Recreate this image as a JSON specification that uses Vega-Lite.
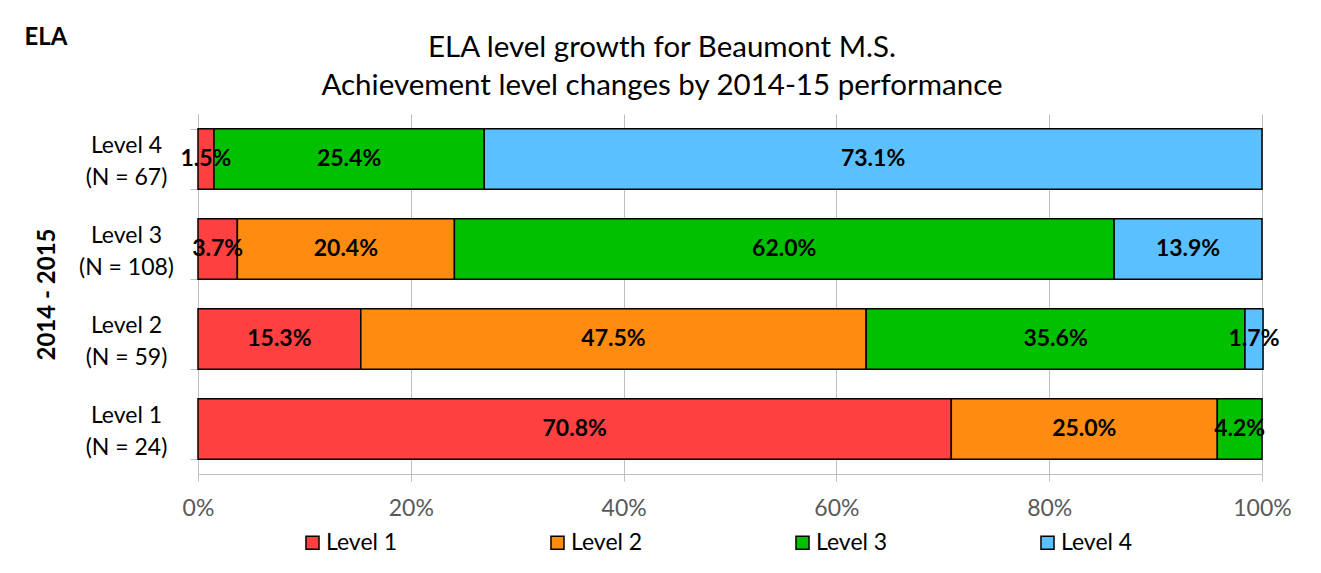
{
  "$schema": "https://vega.github.io/schema/vega-lite/v6.json",
  "autosize": "none",
  "width": 1064,
  "height": 360,
  "padding": {"left": 198, "top": 114, "right": 59, "bottom": 99},
  "background": "white",
  "config": {
    "font": "Lato",
    "view": {"stroke": null},
    "axis": {"labelFont": "Lato", "titleFont": "Lato"},
    "legend": {"labelFont": "Lato"}
  },
  "title": {
    "text": ["ELA level growth for Beaumont M.S.", "Achievement level changes by 2014-15 performance"],
    "fontSize": 29.5,
    "fontWeight": "normal",
    "lineHeight": 38,
    "color": "#000000",
    "anchor": "middle",
    "dx": -68,
    "offset": -76
  },
  "data": {
    "values": [
      {"row": "Level 4|(N = 67)", "level": "Level 1", "ord": 1, "pct": 0.015},
      {"row": "Level 4|(N = 67)", "level": "Level 3", "ord": 3, "pct": 0.254},
      {"row": "Level 4|(N = 67)", "level": "Level 4", "ord": 4, "pct": 0.731},
      {"row": "Level 3|(N = 108)", "level": "Level 1", "ord": 1, "pct": 0.037},
      {"row": "Level 3|(N = 108)", "level": "Level 2", "ord": 2, "pct": 0.204},
      {"row": "Level 3|(N = 108)", "level": "Level 3", "ord": 3, "pct": 0.620},
      {"row": "Level 3|(N = 108)", "level": "Level 4", "ord": 4, "pct": 0.139},
      {"row": "Level 2|(N = 59)", "level": "Level 1", "ord": 1, "pct": 0.153},
      {"row": "Level 2|(N = 59)", "level": "Level 2", "ord": 2, "pct": 0.475},
      {"row": "Level 2|(N = 59)", "level": "Level 3", "ord": 3, "pct": 0.356},
      {"row": "Level 2|(N = 59)", "level": "Level 4", "ord": 4, "pct": 0.017},
      {"row": "Level 1|(N = 24)", "level": "Level 1", "ord": 1, "pct": 0.708},
      {"row": "Level 1|(N = 24)", "level": "Level 2", "ord": 2, "pct": 0.250},
      {"row": "Level 1|(N = 24)", "level": "Level 3", "ord": 3, "pct": 0.042}
    ]
  },
  "transform": [
    {"stack": "pct", "groupby": ["row"], "sort": [{"field": "ord", "order": "ascending"}], "as": ["x0", "x1"]},
    {"calculate": "(datum.x0 + datum.x1) / 2", "as": "mid"}
  ],
  "layer": [
    {
      "mark": {"type": "bar", "stroke": "#000000", "strokeWidth": 1.5},
      "encoding": {
        "y": {
          "field": "row",
          "type": "nominal",
          "sort": ["Level 4|(N = 67)", "Level 3|(N = 108)", "Level 2|(N = 59)", "Level 1|(N = 24)"],
          "scale": {"paddingInner": 0.33, "paddingOuter": 0.165},
          "axis": {
            "title": "2014 - 2015",
            "titleFontSize": 24,
            "titleFontWeight": "bold",
            "titleColor": "#000000",
            "titlePadding": 19,
            "labelExpr": "split(datum.label, '|')",
            "labelFontSize": 23,
            "labelColor": "#000000",
            "labelLineHeight": 32,
            "labelAlign": "center",
            "labelPadding": 64,
            "labelOffset": -14,
            "tickBand": "extent",
            "tickSize": 8,
            "tickColor": "#BFBFBF",
            "domainColor": "#BFBFBF",
            "grid": false
          }
        },
        "x": {
          "field": "x0",
          "type": "quantitative",
          "scale": {"domain": [0, 1], "nice": false},
          "axis": {
            "title": null,
            "format": "%",
            "values": [0, 0.2, 0.4, 0.6, 0.8, 1],
            "labelFontSize": 23,
            "labelColor": "#595959",
            "labelPadding": 16,
            "labelFlush": false,
            "tickSize": 7,
            "tickColor": "#BFBFBF",
            "domainColor": "#BFBFBF",
            "grid": true,
            "gridColor": "#BFBFBF",
            "gridWidth": 1
          }
        },
        "x2": {"field": "x1"},
        "color": {
          "field": "level",
          "type": "nominal",
          "scale": {
            "domain": ["Level 1", "Level 2", "Level 3", "Level 4"],
            "range": ["#FF4040", "#FF8C10", "#00C000", "#5BC0FF"]
          },
          "legend": {
            "title": null,
            "orient": "none",
            "direction": "horizontal",
            "legendX": 103,
            "legendY": 417,
            "symbolType": "square",
            "symbolSize": 170,
            "symbolStrokeColor": "#000000",
            "symbolStrokeWidth": 1.5,
            "labelFontSize": 23,
            "labelColor": "#000000",
            "labelOffset": 2,
            "columnPadding": 148
          }
        }
      }
    },
    {
      "mark": {"type": "text", "fontSize": 23, "fontWeight": "bold", "color": "#000000"},
      "encoding": {
        "y": {
          "field": "row",
          "type": "nominal",
          "sort": ["Level 4|(N = 67)", "Level 3|(N = 108)", "Level 2|(N = 59)", "Level 1|(N = 24)"]
        },
        "x": {
          "field": "mid",
          "type": "quantitative",
          "axis": {
            "orient": "top",
            "title": "ELA",
            "titleFontSize": 24,
            "titleFontWeight": "bold",
            "titleColor": "#000000",
            "titleAnchor": "start",
            "titleAlign": "left",
            "titleBaseline": "alphabetic",
            "titleX": -174,
            "titleY": -70,
            "labels": false,
            "ticks": false,
            "domain": false,
            "grid": false
          }
        },
        "text": {"field": "pct", "type": "quantitative", "format": ".1%"}
      }
    }
  ],
  "resolve": {"axis": {"x": "independent"}}
}
